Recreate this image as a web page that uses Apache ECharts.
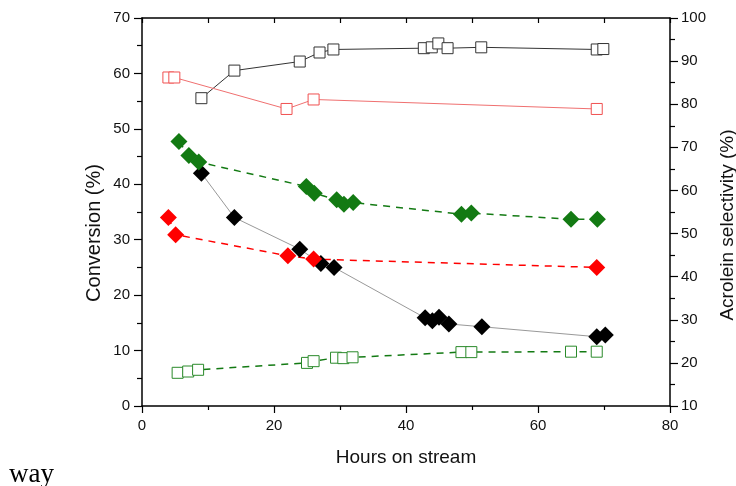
<!DOCTYPE html>
<html>
<head>
  <meta charset="utf-8">
  <script src="https://cdn.jsdelivr.net/npm/echarts@6/dist/echarts.min.js"></script>
  <style>
    html, body { margin: 0; padding: 0; background: #fff; }
    #chart { width: 736px; height: 486px; }
  </style>
</head>
<body>
<div id="chart"></div>
<script>
  // hours on stream + values
  // diamonds -> conversion (left axis), squares -> acrolein selectivity (right axis)
  let blackDiaX = [9.0, 14.0, 23.9, 27.1, 29.1, 42.9, 44.0, 45.0, 46.5, 51.5, 68.9, 70.2];
  let blackDiaY = [42.0, 34.0, 28.3, 25.7, 25.0, 15.9, 15.4, 16.0, 14.8, 14.3, 12.5, 12.8];

  let greenDiaX = [5.6, 7.1, 8.6, 24.9, 26.1, 29.5, 30.6, 32.0, 48.4, 49.9, 65.0, 69.0];
  let greenDiaY = [47.7, 45.2, 44.0, 39.6, 38.4, 37.2, 36.4, 36.7, 34.6, 34.8, 33.7, 33.7];

  let redDiaX = [4.0, 5.1, 22.1, 26.0, 68.9];
  let redDiaY = [34.0, 30.9, 27.1, 26.5, 25.0];

  let blackSqX = [9.0, 14.0, 23.9, 26.9, 29.0, 42.7, 43.9, 44.9, 46.3, 51.4, 68.9, 69.9];
  let blackSqY = [81.4, 87.8, 89.9, 92.0, 92.7, 93.0, 93.2, 94.1, 93.0, 93.2, 92.7, 92.8];

  let redSqX = [4.0, 4.9, 21.9, 26.0, 68.9];
  let redSqY = [86.2, 86.2, 78.9, 81.1, 78.9];

  let greenSqX = [5.4, 7.0, 8.5, 25.0, 26.0, 29.4, 30.5, 31.9, 48.4, 49.9, 65.0, 68.9];
  let greenSqY = [17.7, 18.0, 18.4, 20.0, 20.4, 21.2, 21.1, 21.3, 22.5, 22.5, 22.6, 22.6];

  const FONT = '"Liberation Sans", Arial, sans-serif';
  const GREEN = '#137a13';
  const RED = '#ff0000';

  function pairs(xs, ys) {
    return xs.map((x, i) => [x, ys[i]]);
  }

  function diamonds(name, xs, ys, color, lineStyle) {
    return {
      name: name,
      type: 'line',
      yAxisIndex: 0,
      data: pairs(xs, ys),
      symbol: 'diamond',
      symbolSize: [17, 17],
      itemStyle: {color: color},
      lineStyle: lineStyle,
      z: 3
    };
  }

  function squares(name, xs, ys, color, lineStyle) {
    return {
      name: name,
      type: 'line',
      yAxisIndex: 1,
      data: pairs(xs, ys),
      symbol: 'rect',
      symbolSize: 11,
      itemStyle: {color: '#fff', borderColor: color, borderWidth: 1},
      lineStyle: lineStyle,
      z: 4
    };
  }

  let axisLine = {show: true, onZero: false, lineStyle: {color: '#000', width: 1.5}};
  let axisLabel = {color: '#111', fontSize: 15, fontFamily: FONT};
  let tickStyle = {color: '#000', width: 1.2};

  let option = {
    animation: false,
    backgroundColor: '#fff',
    grid: {left: 142, right: 66, top: 18, bottom: 80},
    xAxis: [
      {
        type: 'value',
        position: 'bottom',
        min: 0, max: 80, interval: 20,
        name: 'Hours on stream',
        nameLocation: 'middle',
        nameGap: 42,
        nameTextStyle: {color: '#111', fontSize: 19, fontFamily: FONT},
        axisLine: axisLine,
        axisTick: {show: true, length: 7, lineStyle: tickStyle},
        minorTick: {show: true, splitNumber: 2, length: 4, lineStyle: tickStyle},
        axisLabel: Object.assign({margin: 12}, axisLabel),
        splitLine: {show: false}
      },
      {
        // top frame with inward ticks
        type: 'value',
        position: 'top',
        min: 0, max: 80, interval: 10,
        axisLine: axisLine,
        axisTick: {show: true, inside: true, length: 5, lineStyle: tickStyle},
        axisLabel: {show: false},
        splitLine: {show: false}
      }
    ],
    yAxis: [
      {
        type: 'value',
        position: 'left',
        min: 0, max: 70, interval: 10,
        axisLine: axisLine,
        axisTick: {show: true, length: 8, lineStyle: tickStyle},
        minorTick: {show: true, splitNumber: 2, length: 5, lineStyle: tickStyle},
        axisLabel: Object.assign({margin: 12}, axisLabel),
        splitLine: {show: false}
      },
      {
        type: 'value',
        position: 'right',
        min: 10, max: 100, interval: 10,
        axisLine: axisLine,
        axisTick: {show: true, length: 8, lineStyle: tickStyle},
        minorTick: {show: true, splitNumber: 2, length: 5, lineStyle: tickStyle},
        axisLabel: Object.assign({margin: 11}, axisLabel),
        splitLine: {show: false}
      }
    ],
    graphic: [
      // y axis titles sit a bit below the middle in the original
      {
        type: 'text',
        x: 94.5, y: 233,
        rotation: Math.PI / 2,
        style: {text: 'Conversion (%)', fontSize: 20, fontFamily: FONT, fill: '#111', align: 'center', verticalAlign: 'middle'}
      },
      {
        type: 'text',
        x: 727.5, y: 225,
        rotation: Math.PI / 2,
        style: {text: 'Acrolein selectivity (%)', fontSize: 19, fontFamily: FONT, fill: '#111', align: 'center', verticalAlign: 'middle'}
      },
      {
        type: 'text',
        left: 9,
        top: 461,
        style: {text: 'way', fontSize: 27, fontFamily: '"Liberation Serif", "Times New Roman", serif', fill: '#000'}
      }
    ],
    series: [
      diamonds('black', blackDiaX, blackDiaY, '#000', {color: '#999', width: 1}),
      diamonds('green', greenDiaX, greenDiaY, GREEN, {color: GREEN, width: 1.5, type: [7, 6]}),
      diamonds('red', redDiaX, redDiaY, RED, {color: RED, width: 1.5, type: [7, 6]}),
      squares('black sel', blackSqX, blackSqY, '#333', {color: '#333', width: 1}),
      squares('red sel', redSqX, redSqY, '#f05050', {color: '#f07070', width: 1}),
      squares('green sel', greenSqX, greenSqY, '#2a8a2a', {color: GREEN, width: 1.5, type: [7, 6]})
    ]
  };

  let chart = echarts.init(document.getElementById('chart'));
  chart.setOption(option);
</script>
</body>
</html>
